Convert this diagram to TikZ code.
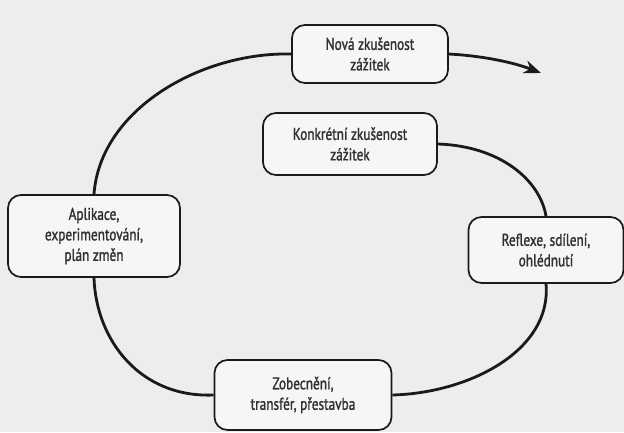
\documentclass[tikz,border=0pt]{standalone}
\usepackage{fontspec}
\setmainfont[FakeStretch=0.78,FakeBold=1.4]{PT Sans}
\usetikzlibrary{arrows.meta}
\definecolor{bg}{HTML}{EDEDED}
\definecolor{boxfill}{HTML}{F6F6F6}
\definecolor{ink}{HTML}{1A1A1A}
\begin{document}
\begin{tikzpicture}[x=1pt,y=-1pt,
  stagebox/.style={draw=ink,line width=1.7pt,rounded corners=13pt,fill=boxfill,
    align=center,inner sep=0pt,font=\fontsize{17}{20.5}\selectfont,text=ink!90},
  cycle/.style={draw=ink,line width=2.8pt}]
\fill[bg] (0,0) rectangle (624,432);
\useasboundingbox (0,0) rectangle (624,432);
\node[stagebox,minimum width=156pt,minimum height=58pt] (n) at (370,54) {Nová zkušenost\\zážitek};
\node[stagebox,minimum width=174pt,minimum height=62pt] (k) at (350,144) {Konkrétní zkušenost\\zážitek};
\node[stagebox,minimum width=172pt,minimum height=82pt] (a) at (94,236) {Aplikace,\\experimentování,\\plán změn};
\node[stagebox,minimum width=155pt,minimum height=66pt] (r) at (546,250) {Reflexe, sdílení,\\ohlédnutí};
\node[stagebox,minimum width=177pt,minimum height=70pt] (z) at (303,395) {Zobecnění,\\transfér, přestavba};
\coordinate (end) at (541,73);
\draw[cycle] (k.east) .. controls (500,146) and (540,180) .. (r.north);
\draw[cycle] (r.south) .. controls (552,350) and (470,393) .. (z.east);
\draw[cycle] (z.west) .. controls (140,398) and (96,340) .. (a.south);
\draw[cycle] (a.north) .. controls (100,110) and (200,52) .. (n.west);
\draw[cycle,-{Stealth[length=17pt,width=13pt]}] (n.east) .. controls (485,56) and (515,63) .. (end);
\end{tikzpicture}
\end{document}
